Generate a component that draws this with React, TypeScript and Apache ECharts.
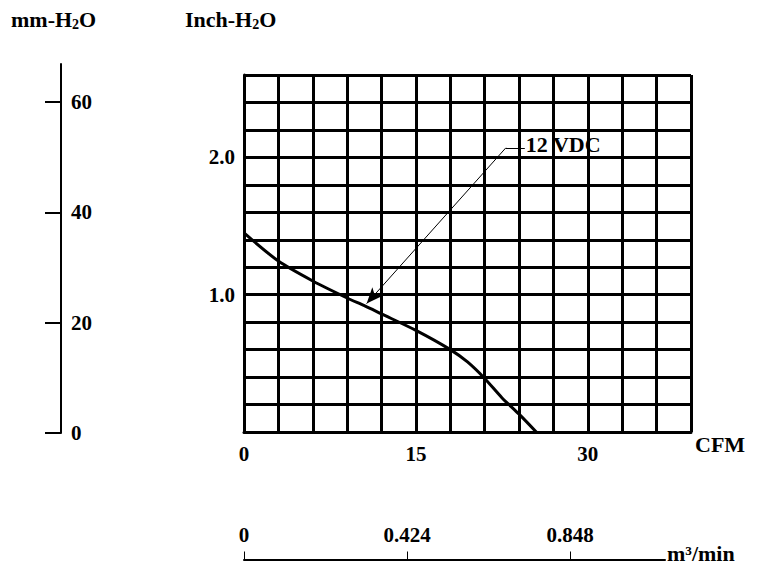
import React, { useEffect, useRef } from "react";
import * as echarts from "echarts";

// Fan curve data (CFM vs Inch-H2O)
const cfm = [0, 3, 6, 9, 10.5, 12, 15, 18, 19.5, 21, 22.5, 24, 25.5];
const inchH2O = [1.45, 1.245, 1.1, 0.976, 0.92, 0.86, 0.74, 0.6, 0.51, 0.39, 0.25, 0.13, 0];

const cfmLabels = [0, 15, 30];
const inchLabels = [1.0, 2.0];
const mmTicks = [0, 20, 40, 60];
const m3Ticks = [0, 0.424, 0.848];

// annotation anchor points (data coords)
const annoLabelPt = [24.5, 2.07];
const annoElbowPt = [22.85, 2.07];
const annoTipPt = [10.7, 0.935];

const FONT = "'Liberation Serif', 'Times New Roman', serif";

export default function App() {
  const ref = useRef<HTMLDivElement>(null);
  useEffect(() => {
    if (!ref.current) return;
    const chart = echarts.init(ref.current, undefined, { renderer: "svg" });
    const lbl = { fontFamily: FONT, fontWeight: "bold" as const, fontSize: 21, color: "#000" };
    const sub = {
      a: { ...lbl, fontSize: 22, lineHeight: 24 },
      s: { ...lbl, fontSize: 14, lineHeight: 14, verticalAlign: "bottom" },
    };
    const option: any = {
      animation: false,
      backgroundColor: "#fff",
      grid: [
        { left: 244, top: 75, width: 447, height: 357, containLabel: false },
        { left: 61, top: 64, width: 20, height: 369, containLabel: false },
        { left: 244, top: 540, width: 421, height: 19.5, containLabel: false },
      ],
      xAxis: [
        {
          gridIndex: 0,
          type: "value",
          min: 0,
          max: 39,
          interval: 3,
          axisLine: { show: true, lineStyle: { color: "#000", width: 3 } },
          axisTick: { show: false },
          splitLine: { show: true, lineStyle: { color: "#000", width: 3 } },
          axisLabel: {
            ...lbl,
            margin: 11,
            formatter: (v: number) => (cfmLabels.some((c) => Math.abs(c - v) < 1e-6) ? String(v) : ""),
          },
          name: "CFM",
          nameLocation: "end",
          nameGap: 4,
          nameTextStyle: { ...lbl, fontSize: 22, verticalAlign: "top", lineHeight: 24 },
        },
        { gridIndex: 1, type: "value", show: false, min: 0, max: 1 },
        {
          gridIndex: 2,
          type: "value",
          position: "bottom",
          min: 0,
          max: 1.095,
          axisLine: { show: true, lineStyle: { color: "#000", width: 2 } },
          axisTick: { show: true, inside: true, length: 8, customValues: m3Ticks, lineStyle: { color: "#000", width: 1 } },
          splitLine: { show: false },
          axisLabel: { ...lbl, inside: true, margin: 14, customValues: m3Ticks, formatter: (v: number) => String(v) },
          name: "m³/min",
          nameLocation: "end",
          nameGap: 2,
          nameTextStyle: { ...lbl, fontSize: 22, verticalAlign: "bottom", lineHeight: 12 },
        },
      ],
      yAxis: [
        {
          gridIndex: 0,
          type: "value",
          min: 0,
          max: 2.6,
          interval: 0.2,
          axisLine: { show: true, lineStyle: { color: "#000", width: 3 } },
          axisTick: { show: false },
          splitLine: { show: true, lineStyle: { color: "#000", width: 3 } },
          axisLabel: {
            ...lbl,
            margin: 9,
            formatter: (v: number) => (inchLabels.some((c) => Math.abs(c - v) < 1e-6) ? v.toFixed(1) : ""),
          },
        },
        {
          gridIndex: 1,
          type: "value",
          position: "left",
          min: 0,
          max: 66.9,
          axisLine: { show: true, lineStyle: { color: "#000", width: 2 } },
          axisTick: { show: true, inside: false, length: 16, customValues: mmTicks, lineStyle: { color: "#000", width: 2 } },
          splitLine: { show: false },
          axisLabel: { ...lbl, inside: true, margin: 10, customValues: mmTicks, formatter: (v: number) => String(v) },
        },
        { gridIndex: 2, type: "value", show: false, min: 0, max: 1 },
      ],
      graphic: [
        {
          type: "text",
          left: 11,
          top: 8,
          style: { text: "{a|mm-H}{s|2}{a|O}", rich: sub },
        },
        {
          type: "text",
          left: 185,
          top: 8,
          style: { text: "{a|Inch-H}{s|2}{a|O}", rich: sub },
        },
      ],
      series: [
        {
          type: "line",
          xAxisIndex: 0,
          yAxisIndex: 0,
          data: cfm.map((x, i) => [x, inchH2O[i]]),
          smooth: 0.25,
          showSymbol: false,
          symbol: "none",
          silent: true,
          lineStyle: { color: "#000", width: 3 },
          markLine: {
            silent: true,
            animation: false,
            lineStyle: { color: "#000", width: 1, type: "solid" },
            emphasis: { disabled: true },
            data: [
              [
                {
                  coord: annoLabelPt,
                  symbol: "none",
                  label: {
                    show: true,
                    position: "start",
                    distance: 1,
                    formatter: "{a|12 VDC}",
                    rich: { a: { ...lbl, fontSize: 22, padding: [0, 0, 7, 0] } },
                  },
                },
                { coord: annoElbowPt, symbol: "none" },
              ],
              [
                { coord: annoElbowPt, symbol: "none", label: { show: false } },
                { coord: annoTipPt, symbol: "arrow", symbolSize: [10, 16], label: { show: false } },
              ],
            ],
          },
        },
      ],
    };
    chart.setOption(option);
    return () => chart.dispose();
  }, []);
  return <div ref={ref} style={{ position: "fixed", left: 0, top: 0, width: 781, height: 577, background: "#fff" }} />;
}
